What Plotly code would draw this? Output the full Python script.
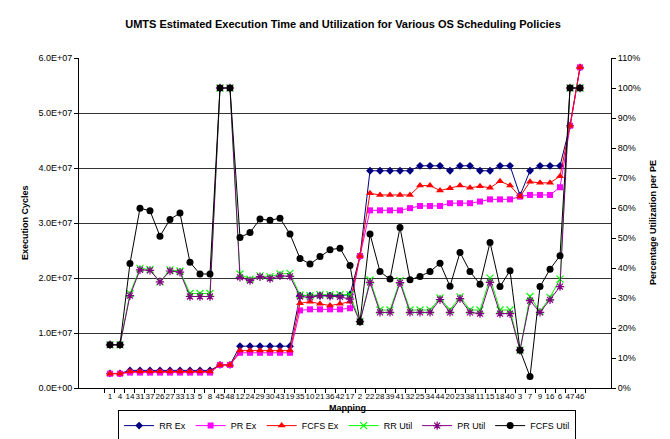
import plotly.graph_objects as go

mapping = ["1","4","14","31","37","26","27","33","13","5","8","45","48","12","24","29","30","43","19",
           "35","10","21","36","42","17","2","22","28","39","41","32","25","34","44","20","23","38","11",
           "15","18","40","3","7","9","16","6","47","46"]

rr_ex = [2.65e6, 2.65e6] + [3.2e6]*9 + [4.2e6]*2 + [7.6e6]*6 + [1.68e7]*5 + [1.7e7] + [2.4e7] + \
        [3.95e7]*5 + [4.04e7]*3 + [3.95e7] + [4.04e7]*2 + [3.95e7]*2 + [4.04e7]*2 + [3.5e7] + [3.95e7] + \
        [4.04e7]*3 + [4.77e7, 5.83e7]
pr_ex = [2.6e6, 2.6e6] + [2.8e6]*9 + [4.2e6]*2 + [6.4e6]*6 + [1.41e7, 1.43e7, 1.43e7, 1.43e7, 1.43e7, 1.45e7] + \
        [2.4e7] + [3.23e7]*4 + [3.27e7] + [3.31e7]*3 + [3.36e7]*3 + [3.39e7] + [3.43e7]*3 + [3.48e7] + \
        [3.51e7]*3 + [3.65e7, 4.77e7, 5.83e7]
fcfs_ex = [2.6e6, 2.6e6] + [3.0e6]*9 + [4.2e6]*2 + [6.8e6]*6 + [1.54e7, 1.57e7, 1.53e7, 1.5e7, 1.53e7, 1.57e7] + \
          [2.4e7] + [3.54e7, 3.51e7, 3.51e7, 3.51e7, 3.51e7, 3.68e7, 3.68e7, 3.59e7, 3.63e7, 3.68e7, 3.64e7,
                     3.67e7, 3.64e7, 3.76e7, 3.68e7, 3.48e7, 3.75e7, 3.73e7, 3.73e7, 3.85e7, 4.77e7, 5.83e7]

rr_util = [14.4, 14.4, 31.5, 39.9, 39.5, 35.4, 39.4, 39.0, 31.5, 31.5, 31.5, 100, 100, 38.0, 36.3, 37.4, 37.1,
           38.0, 38.2, 31.0, 30.8, 31.1, 31.1, 31.1, 31.1, 22.1, 36.0, 26.0, 26.0, 35.8, 26.0, 26.0, 26.0, 30.0,
           26.0, 30.4, 26.0, 26.0, 36.6, 26.0, 26.0, 12.6, 30.5, 25.5, 30.2, 36.3, 100, 100]
pr_util = [14.4, 14.4, 30.8, 39.4, 39.2, 35.4, 39.0, 38.6, 30.5, 30.5, 30.5, 100, 100, 36.9, 35.8, 37.1, 36.5,
           37.4, 37.2, 30.5, 30.2, 30.8, 30.6, 30.4, 29.6, 22.1, 35.2, 25.2, 25.2, 35.1, 25.2, 25.2, 25.2, 29.5,
           25.2, 29.8, 25.2, 24.8, 35.2, 24.8, 24.8, 12.6, 29.1, 25.2, 29.4, 33.8, 100, 100]
fcfs_util = [14.4, 14.4, 41.5, 59.9, 59.1, 50.6, 56.2, 58.3, 41.9, 38.0, 38.0, 100, 100, 50.2, 51.8, 56.3, 55.9,
             56.6, 51.3, 43.2, 41.3, 43.8, 46.1, 46.6, 40.8, 22.1, 51.3, 38.8, 36.3, 53.5, 36.1, 37.2, 38.8, 41.6,
             33.9, 45.2, 38.8, 34.6, 48.5, 33.8, 39.1, 12.6, 3.8, 33.8, 39.6, 44.1, 100, 100]

left_tickvals = [0, 1e7, 2e7, 3e7, 4e7, 5e7, 6e7]
left_ticktext = ["0.0E+00", "1.0E+07", "2.0E+07", "3.0E+07", "4.0E+07", "5.0E+07", "6.0E+07"]
right_tickvals = [0, 10, 20, 30, 40, 50, 60, 70, 80, 90, 100, 110]
right_ticktext = ["0%", "10%", "20%", "30%", "40%", "50%", "60%", "70%", "80%", "90%", "100%", "110%"]

for arr in (rr_ex, pr_ex, fcfs_ex, rr_util, pr_util, fcfs_util):
    assert len(arr) == len(mapping), len(arr)

FONT = "Liberation Sans, Arial, sans-serif"

fig = go.Figure()

def add(name, y, color, symbol, size, axis, lw=1, mline=None):
    marker = dict(symbol=symbol, size=size, color=color)
    if mline is not None:
        marker["line"] = dict(color=color, width=mline)
    fig.add_trace(go.Scatter(x=mapping, y=y, name=name, mode="lines+markers", yaxis=axis,
                             line=dict(color=color, width=lw), marker=marker))

add("RR Ex", rr_ex, "#000080", "diamond", 6, "y")
add("PR Ex", pr_ex, "#FF00FF", "square", 6, "y")
add("FCFS Ex", fcfs_ex, "#FF0000", "triangle-up", 7, "y")
add("RR Util", rr_util, "#00FF00", "x-thin-open", 7, "y2", mline=1.2)
add("PR Util", pr_util, "#800080", "asterisk-open", 7, "y2", mline=1.2)
add("FCFS Util", fcfs_util, "#000000", "circle", 7, "y2")

fig.update_layout(
    width=670, height=439,
    margin=dict(l=71, r=67, t=50, b=59, autoexpand=False),
    paper_bgcolor="white", plot_bgcolor="white",
    font=dict(family=FONT, size=9, color="black"),
    title=dict(text="<b>UMTS Estimated Execution Time and Utilization for Various OS Scheduling Policies</b>",
               x=0.5, xanchor="center", y=0.964, yanchor="middle",
               font=dict(family=FONT, size=11, color="black")),
    showlegend=True,
    legend=dict(orientation="h", x=0.504, xanchor="center", y=-0.067, yanchor="top",
                bordercolor="black", borderwidth=1, font=dict(family=FONT, size=9),
                itemwidth=30, tracegroupgap=0),
    xaxis=dict(type="category", categoryorder="array", categoryarray=mapping,
               showline=True, linecolor="black", linewidth=1, mirror=False,
               ticks="outside", ticklen=4, tickcolor="black", tickson="boundaries",
               showgrid=False, tickfont=dict(family=FONT, size=8), tickangle=0),
    yaxis=dict(range=[0, 6e7], tickvals=left_tickvals, ticktext=left_ticktext,
               showline=True, linecolor="black", linewidth=1, ticks="outside", ticklen=4,
               tickcolor="black", showgrid=True, gridcolor="#333333", gridwidth=1, zeroline=False,
               tickfont=dict(family=FONT, size=9)),
    yaxis2=dict(range=[0, 110], tickvals=right_tickvals, ticktext=right_ticktext, overlaying="y", side="right",
                showline=True, linecolor="black", linewidth=1, ticks="outside", ticklen=4,
                tickcolor="black", showgrid=False, zeroline=False, tickfont=dict(family=FONT, size=9)),
    annotations=[
        dict(text="<b>Execution Cycles</b>", xref="paper", yref="paper", x=-0.1015, y=0.5,
             xanchor="center", yanchor="middle", textangle=-90, showarrow=False,
             font=dict(family=FONT, size=9)),
        dict(text="<b>Percentage Utilization per PE</b>", xref="paper", yref="paper", x=1.079, y=0.5,
             xanchor="center", yanchor="middle", textangle=-90, showarrow=False,
             font=dict(family=FONT, size=9)),
        dict(text="<b>Mapping</b>", xref="paper", yref="paper", x=0.504, y=-0.062,
             xanchor="center", yanchor="middle", showarrow=False, font=dict(family=FONT, size=9)),
    ],
)

fig.write_html("out.html")
